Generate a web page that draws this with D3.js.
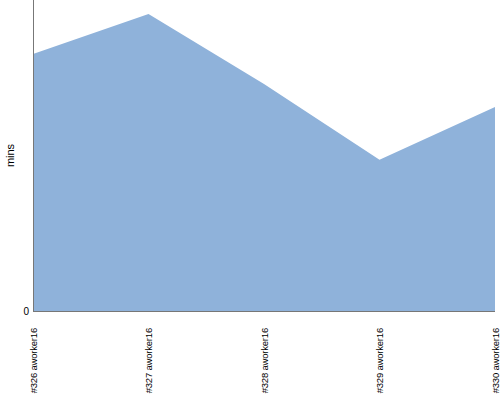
<!DOCTYPE html>
<html><head><meta charset="utf-8">
<script src="https://cdn.jsdelivr.net/npm/d3@7"></script>
<style>body{margin:0;background:#fff}svg{display:block}</style>
</head><body>
<script>
const categories = ["#326 aworker16","#327 aworker16","#328 aworker16","#329 aworker16","#330 aworker16"];
const values = [82.6, 95.5, 73.0, 48.6, 65.6];
const yTicks = [0];
const yLabel = "mins";

const W = 500, H = 400;
const m = {left: 33, right: 5, top: 0, bottom: 89};
const svg = d3.select("body").append("svg").attr("width", W).attr("height", H);
const x = d3.scalePoint().domain(categories).range([m.left, W - m.right]);
const y = d3.scaleLinear().domain([0, 100]).range([H - m.bottom, m.top]);
const data = categories.map((c, i) => ({c, v: values[i]}));

svg.append("path").datum(data)
  .attr("fill", "#8fb2da")
  .attr("d", d3.area().x(d => x(d.c)).y0(y(0)).y1(d => y(d.v)));

const gx = svg.append("g").attr("transform", `translate(0,${y(0)})`)
  .call(d3.axisBottom(x).tickSize(0).tickPadding(0));
gx.select(".domain").attr("stroke", "#777").attr("d", `M${m.left},0.5H${W - m.right}`);
gx.selectAll("text")
  .attr("transform", "rotate(-90)")
  .attr("text-anchor", "end")
  .attr("dy", "0.35em")
  .attr("x", -17).attr("y", 0)
  .style("font-family", "Liberation Sans, Arial, sans-serif")
  .style("font-size", "9.5px")
  .style("letter-spacing", "-0.2px")
  .attr("fill", "#000");

const gy = svg.append("g").attr("transform", `translate(${m.left},0)`)
  .call(d3.axisLeft(y).tickValues(yTicks).tickSize(0).tickPadding(4));
gy.select(".domain").attr("stroke", "#777").attr("d", `M0.5,${m.top}V${y(0)}`);
gy.selectAll("text").style("font-family", "Liberation Sans, Arial, sans-serif").style("font-size", "10px").attr("fill", "#000");

svg.append("text")
  .attr("transform", `translate(14,${(y(0) + m.top) / 2}) rotate(-90)`)
  .attr("text-anchor", "middle")
  .style("font-family", "Liberation Sans, Arial, sans-serif")
  .style("font-size", "11px")
  .text(yLabel);
</script>
</body></html>
